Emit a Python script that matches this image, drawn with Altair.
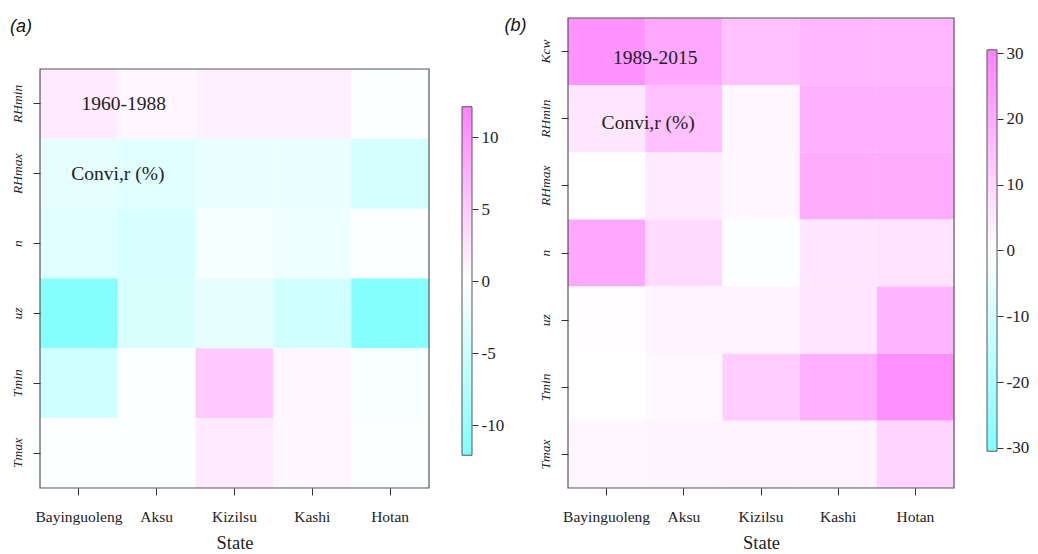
import altair as alt
import pandas as pd

states = ["Bayinguoleng", "Aksu", "Kizilsu", "Kashi", "Hotan"]

rows_a = ["RHmin", "RHmax", "n", "uz", "Tmin", "Tmax"]
vals_a = [
    [2.0, 0.8, 1.5, 1.5, -0.5],      # RHmin
    [-2.5, -3.0, -2.0, -2.0, -4.0],  # RHmax
    [-3.0, -3.8, -1.0, -1.5, -0.3],  # n
    [-11.5, -3.5, -2.5, -4.5, -11.5],  # uz
    [-4.5, -0.3, 5.0, 0.8, -0.8],    # Tmin
    [-0.4, -0.4, 2.0, 0.8, -0.4],    # Tmax
]

rows_b = ["Kcw", "RHmin", "RHmax", "n", "uz", "Tmin", "Tmax"]
vals_b = [
    [26, 21, 15, 17, 17],     # Kcw
    [6, 15, 2, 19, 19],       # RHmin
    [0, 5, 2, 20, 20],        # RHmax
    [21, 9, -1, 6, 7],        # n
    [0.5, 3, 3, 6, 18],       # uz
    [0.3, 1.5, 12, 19, 27],   # Tmin
    [2, 2.5, 3, 3, 10],       # Tmax
]

lim_a = 12.1
lim_b = 30.5
ticks_a = [-10, -5, 0, 5, 10]
ticks_b = [-30, -20, -10, 0, 10, 20, 30]
period_a = "1960-1988"
period_b = "1989-2015"
note = "Convi,r (%)"
bar_x = [0, 1]

CYAN, WHITE, MAG = "#80FFFF", "#FFFFFF", "#FF80FF"
SERIF = "Liberation Serif"
SANS = "Liberation Sans"
INK = "#333333"
FRAME = "#555555"
H = 470  # height of both plot areas (panel a's grid sits in the lower part)


def long_df(rows, vals):
    return pd.DataFrame(
        [{"row": r, "state": s, "v": vals[i][j]}
         for i, r in enumerate(rows) for j, s in enumerate(states)]
    )


def panel(rows, vals, lim, ticks, w, grid_top, period, pdx, pdy, ndx, ndy,
          title_text, t_dx, zero_px, px_per_unit, gap=33, cw=10):
    h = H
    df = long_df(rows, vals)
    xaxis = alt.Axis(title="State", labelAngle=0, labelFont=SERIF, labelFontSize=15.5,
                     labelColor="#222", titleFont=SERIF, titleFontSize=18.5,
                     titleFontWeight="normal", titleColor="#222", domain=False,
                     tickSize=7, tickColor=INK, labelPadding=14, titlePadding=9)
    yaxis = alt.Axis(title=None, labelAngle=-90, labelFont=SERIF, labelFontSize=13.5,
                     labelFontStyle="italic", labelColor="#222", domain=False,
                     tickSize=7, tickColor=INK, labelPadding=9, labelAlign="center",
                     labelBaseline="bottom")
    xs = alt.Scale(domain=states, paddingInner=0, paddingOuter=0)
    ys = alt.Scale(domain=rows, paddingInner=0, paddingOuter=0, range=[grid_top, h])
    rect = alt.Chart(df).mark_rect().encode(
        x=alt.X("state:N", scale=xs, axis=xaxis),
        y=alt.Y("row:N", scale=ys, axis=yaxis),
        color=alt.Color("v:Q", legend=None,
                        scale=alt.Scale(domain=[-lim, 0, lim], nice=False, zero=False,
                                        range=[CYAN, WHITE, MAG], interpolate="rgb")),
    )
    # box round the grid, from the first to the last category on each scale
    fdf = pd.DataFrame({"s0": [states[0]], "s1": [states[-1]],
                        "r0": [rows[0]], "r1": [rows[-1]]})
    frame = alt.Chart(fdf).mark_rect(fill="transparent", stroke=FRAME, strokeWidth=1.2).encode(
        x=alt.X("s0:N", scale=xs, axis=xaxis, bandPosition=0),
        x2=alt.X2("s1", bandPosition=1),
        y=alt.Y("r0:N", scale=ys, axis=yaxis, bandPosition=0),
        y2=alt.Y2("r1", bandPosition=1),
    )
    t1 = alt.Chart(pd.DataFrame({"state": [states[0]], "row": [rows[0]], "txt": [period]})
                   ).mark_text(font=SERIF, fontSize=19.5, color="#222", dx=pdx, dy=pdy).encode(
        x=alt.X("state:N", scale=xs, axis=xaxis, bandPosition=1),
        y=alt.Y("row:N", scale=ys, axis=yaxis),
        text="txt:N",
    )
    t2 = alt.Chart(pd.DataFrame({"state": [states[0]], "row": [rows[1]], "txt": [note]})
                   ).mark_text(font=SERIF, fontSize=19.5, color="#222", dx=ndx, dy=ndy).encode(
        x=alt.X("state:N", scale=xs, axis=xaxis, bandPosition=1),
        y=alt.Y("row:N", scale=ys, axis=yaxis),
        text="txt:N",
    )
    heat = alt.layer(rect, frame, t1, t2)

    # colour bar, drawn to the right of the heat map with its own scales
    cdf = pd.DataFrame({"lo": [-lim], "hi": [lim], "x0": [bar_x[0]], "x1": [bar_x[1]]})
    grad = alt.Gradient(gradient="linear",
                        stops=[alt.GradientStop(color=CYAN, offset=0),
                               alt.GradientStop(color=WHITE, offset=0.5),
                               alt.GradientStop(color=MAG, offset=1)],
                        x1=0, x2=0, y1=1, y2=0)
    a = -(w + gap) / cw
    xdom = [a, a + w / cw]
    ydom = [-(h - zero_px) / px_per_unit, zero_px / px_per_unit]
    cb = alt.Chart(cdf).mark_rect(fill=grad, stroke=FRAME, strokeWidth=1).encode(
        x=alt.X("x0:Q", scale=alt.Scale(domain=xdom, nice=False, zero=False), axis=None),
        x2="x1:Q",
        y=alt.Y("lo:Q", scale=alt.Scale(domain=ydom, nice=False, zero=False),
                axis=alt.Axis(orient="right", values=ticks, title=None, domain=False,
                              grid=False, tickSize=6, tickColor=INK, labelFont=SERIF,
                              labelFontSize=17, labelColor="#222", labelPadding=3,
                              offset=gap + cw, labelExpr="'' + datum.value")),
        y2="hi:Q",
    )
    return alt.layer(heat, cb).resolve_scale(x="independent", y="independent").properties(
        width=w, height=h,
        view=alt.ViewBackground(strokeOpacity=0),
        title=alt.TitleParams(title_text, anchor="start", font=SANS, fontSize=18,
                              fontStyle="italic", fontWeight="normal", color="#111",
                              offset=-17.5, dx=t_dx),
    )


# panel a: grid from 51 px below the top; colour-bar zero 263 px below top, 14.4 px/unit
pa = panel(rows_a, vals_a, lim_a, ticks_a, 389, 51, period_a, 6, 0, 0, 0,
           "(a)", 0, 263, 14.4)
# panel b: grid fills the plot; zero 232.5 px below top, 6.58 px/unit
pb = panel(rows_b, vals_b, lim_b, ticks_b, 386, 0, period_b, 10, 6, 3, 4,
           "(b)", -33.5, 232.5, 6.58)

chart = alt.hconcat(pa, pb, spacing=0).resolve_scale(
    color="independent"
).properties(
    padding={"left": 10, "top": 16, "right": 0, "bottom": 0},
    background="white",
).configure_view(strokeOpacity=0)

chart.save("out.html", embed_options={"renderer": "svg", "actions": False})
